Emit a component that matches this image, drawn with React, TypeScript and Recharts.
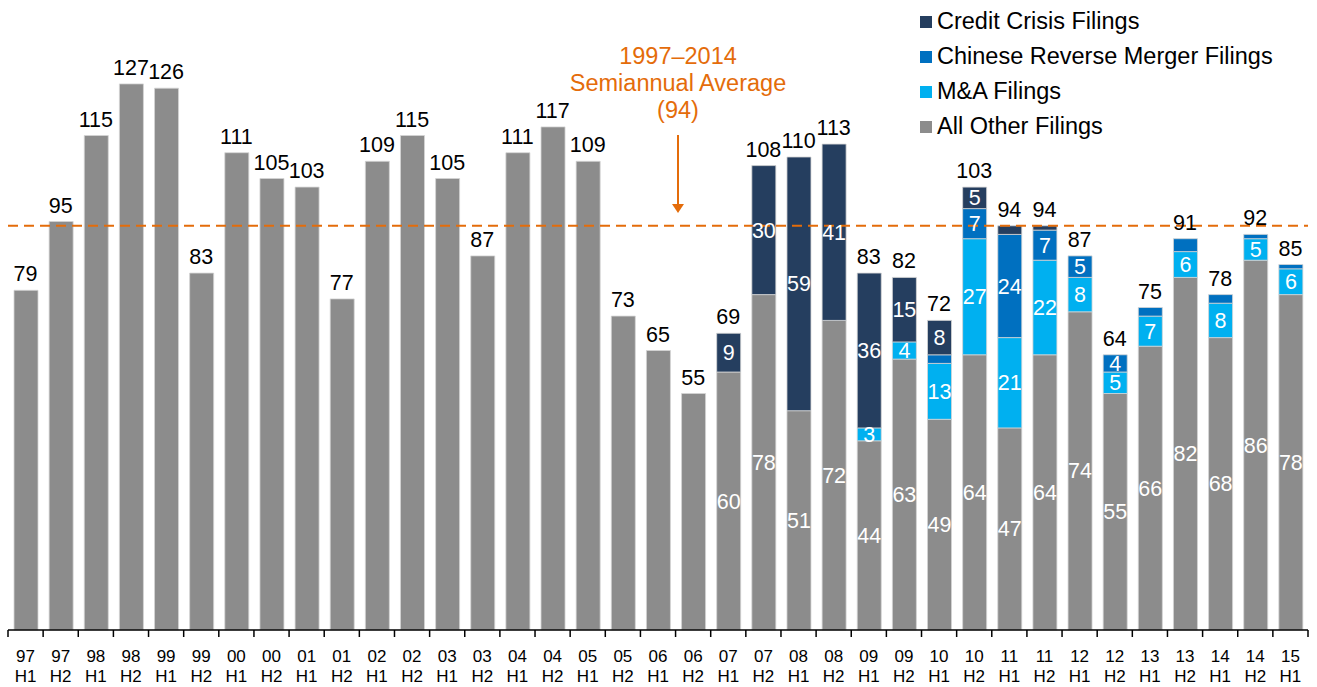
import { Bar, ComposedChart, LabelList, Line, ReferenceLine, XAxis, YAxis } from 'recharts';

const periods = [
  '97 H1', '97 H2', '98 H1', '98 H2', '99 H1', '99 H2', '00 H1', '00 H2', '01 H1', '01 H2',
  '02 H1', '02 H2', '03 H1', '03 H2', '04 H1', '04 H2', '05 H1', '05 H2', '06 H1', '06 H2',
  '07 H1', '07 H2', '08 H1', '08 H2', '09 H1', '09 H2', '10 H1', '10 H2', '11 H1', '11 H2',
  '12 H1', '12 H2', '13 H1', '13 H2', '14 H1', '14 H2', '15 H1',
];
const allOther = [
  79, 95, 115, 127, 126, 83, 111, 105, 103, 77,
  109, 115, 105, 87, 111, 117, 109, 73, 65, 55,
  60, 78, 51, 72, 44, 63, 49, 64, 47, 64,
  74, 55, 66, 82, 68, 86, 78,
];
const mergers = [
  0, 0, 0, 0, 0, 0, 0, 0, 0, 0,
  0, 0, 0, 0, 0, 0, 0, 0, 0, 0,
  0, 0, 0, 0, 3, 4, 13, 27, 21, 22,
  8, 5, 7, 6, 8, 5, 6,
];
const chineseRm = [
  0, 0, 0, 0, 0, 0, 0, 0, 0, 0,
  0, 0, 0, 0, 0, 0, 0, 0, 0, 0,
  0, 0, 0, 0, 0, 0, 2, 7, 24, 7,
  5, 4, 2, 3, 2, 1, 1,
];
const creditCrisis = [
  0, 0, 0, 0, 0, 0, 0, 0, 0, 0,
  0, 0, 0, 0, 0, 0, 0, 0, 0, 0,
  9, 30, 59, 41, 36, 15, 8, 5, 2, 1,
  0, 0, 0, 0, 0, 0, 0,
];
const average = 94;

const colors = { credit: '#253e5f', crm: '#0070c0', mna: '#00b0f0', other: '#8c8c8c' };
const orange = '#e46c0a';
const font = '"Liberation Sans", Arial, sans-serif';

const data = periods.map((period, i) => ({
  period,
  other: allOther[i],
  mna: mergers[i],
  crm: chineseRm[i],
  credit: creditCrisis[i],
  total: allOther[i] + mergers[i] + chineseRm[i] + creditCrisis[i],
  special: mergers[i] + chineseRm[i] + creditCrisis[i] > 0,
}));

const W = 1317;
const H = 687;
const M = { top: 28, right: 9, bottom: 0, left: 8 };
const BAND = (W - M.left - M.right) / periods.length;

const legendItems = [
  { name: 'Credit Crisis Filings', color: colors.credit },
  { name: 'Chinese Reverse Merger Filings', color: colors.crm },
  { name: 'M&A Filings', color: colors.mna },
  { name: 'All Other Filings', color: colors.other },
];

// small segments go unlabelled, like the source deck
function inside(min: number, onlySpecial = false) {
  return (props: any) => {
    const { x, y, width, height, value, index } = props;
    if (value == null || Number(value) < min) return null;
    if (onlySpecial && !data[index]?.special) return null;
    return (
      <text x={Number(x) + Number(width) / 2} y={Number(y) + Number(height) / 2} dy={7.5}
        textAnchor="middle" fill="#fff" fontSize={21.5} fontFamily={font}>
        {value}
      </text>
    );
  };
}

function TotalLabel(props: any) {
  const { x, y, value } = props;
  return (
    <text x={x} y={Number(y) - 9} textAnchor="middle" fill="#000" fontSize={21.5} fontFamily={font}>
      {value}
    </text>
  );
}

function PeriodTick(props: any) {
  const { x, y, payload, index } = props;
  const [yr, half] = String(payload.value).split(' ');
  const left = x - BAND / 2;
  return (
    <g>
      <line x1={left} x2={left} y1={y} y2={y + 7} stroke="#000" strokeWidth={1.5}/>
      {index === periods.length - 1 && <line x1={x + BAND / 2} x2={x + BAND / 2} y1={y} y2={y + 7} stroke="#000" strokeWidth={1.5}/>}
      <text x={x} y={y + 32} textAnchor="middle" fontSize={17} fontFamily={font} fill="#000">{yr}</text>
      <text x={x} y={y + 52} textAnchor="middle" fontSize={17} fontFamily={font} fill="#000">{half}</text>
    </g>
  );
}

export default function App() {
  return (
    <div style={{ position: 'absolute', left: 0, top: 0, width: W, height: H, background: '#fff', fontFamily: font }}>
      <ComposedChart width={W} height={H} data={data} margin={M} barSize={24}>
        <XAxis dataKey="period" interval={0} height={57} tickLine={false} tickSize={0} tickMargin={0}
          axisLine={{ stroke: '#000', strokeWidth: 1.5 }} tick={<PeriodTick/>}/>
        <YAxis hide domain={[0, 140]}/>
        <Bar dataKey="other" stackId="a" fill={colors.other} stroke="#d4d4d4" strokeWidth={0.8} isAnimationActive={false}>
          <LabelList dataKey="other" content={inside(0, true)}/>
        </Bar>
        <Bar dataKey="mna" stackId="a" fill={colors.mna} stroke="#d4d4d4" strokeWidth={0.8} isAnimationActive={false}>
          <LabelList dataKey="mna" content={inside(3)}/>
        </Bar>
        <Bar dataKey="crm" stackId="a" fill={colors.crm} stroke="#d4d4d4" strokeWidth={0.8} isAnimationActive={false}>
          <LabelList dataKey="crm" content={inside(4)}/>
        </Bar>
        <Bar dataKey="credit" stackId="a" fill={colors.credit} stroke="#d4d4d4" strokeWidth={0.8} isAnimationActive={false}>
          <LabelList dataKey="credit" content={inside(3)}/>
        </Bar>
        <Line dataKey="total" stroke="none" dot={false} activeDot={false} isAnimationActive={false}>
          <LabelList dataKey="total" content={<TotalLabel/>}/>
        </Line>
        <ReferenceLine y={average} stroke={orange} strokeWidth={2} strokeDasharray="10 6" ifOverflow="extendDomain"/>
      </ComposedChart>

      <div style={{ position: 'absolute', left: 548, top: 43, width: 260, textAlign: 'center', color: orange, fontSize: 23.5, lineHeight: '27px' }}>
        <div>1997–2014</div>
        <div>Semiannual Average</div>
        <div>({average})</div>
      </div>
      <svg style={{ position: 'absolute', left: 668, top: 130 }} width={20} height={90}>
        <line x1={10} x2={10} y1={5} y2={75} stroke={orange} strokeWidth={2}/>
        <path d="M4,74 L16,74 L10,83 Z" fill={orange}/>
      </svg>

      <div style={{ position: 'absolute', left: 920, top: 4 }}>
        {legendItems.map((item) => (
          <div key={item.name} style={{ display: 'flex', alignItems: 'center', height: 35 }}>
            <span style={{ width: 12, height: 12, background: item.color, marginRight: 5 }}/>
            <span style={{ fontSize: 23.5, color: '#000' }}>{item.name}</span>
          </div>
        ))}
      </div>
    </div>
  );
}
